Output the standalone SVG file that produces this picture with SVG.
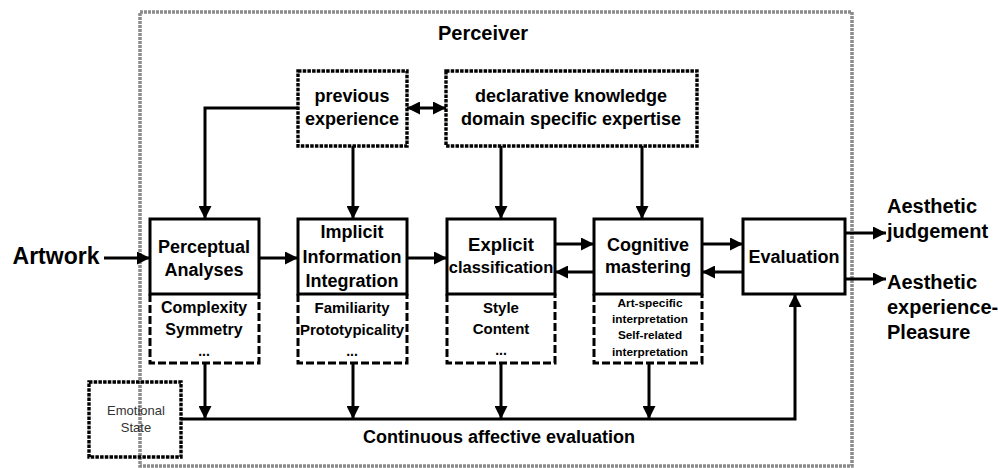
<svg xmlns="http://www.w3.org/2000/svg" width="998" height="468" viewBox="0 0 998 468">
<style>
text{font-family:"Liberation Sans",Arial,sans-serif;font-weight:bold;fill:#000;text-anchor:middle}
.box{fill:#fff;stroke:#000;stroke-width:3}
.dash{fill:none;stroke:#000;stroke-width:3;stroke-dasharray:8 3}
.dot{fill:#fff;stroke:#000;stroke-width:3.4;stroke-dasharray:3.5 1.2}
.ln{fill:none;stroke:#000;stroke-width:3}
.frame{fill:none;stroke:#8c8c8c;stroke-width:3.5;stroke-dasharray:3 1}
</style>
<defs>
<marker id="ah" viewBox="0 0 12 12" markerUnits="userSpaceOnUse" markerWidth="13" markerHeight="13" refX="12" refY="6" orient="auto-start-reverse">
<path d="M0,0 L12,6 L0,12 z" fill="#000"/>
</marker>
</defs>
<rect class="frame" x="140" y="12" width="712" height="454"/>
<text x="483" y="40" font-size="20">Perceiver</text>

<g id="connectors">
<path class="ln" d="M104,258 H150" marker-end="url(#ah)"/>
<path class="ln" d="M407,108 H446" marker-start="url(#ah)" marker-end="url(#ah)"/>
<path class="ln" d="M298,108 H205 V219" marker-end="url(#ah)"/>
<path class="ln" d="M353,146 V219" marker-end="url(#ah)"/>
<path class="ln" d="M501,146 V219" marker-end="url(#ah)"/>
<path class="ln" d="M642,146 V219" marker-end="url(#ah)"/>
<path class="ln" d="M259,258 H298" marker-end="url(#ah)"/>
<path class="ln" d="M407,258 H447" marker-end="url(#ah)"/>
<path class="ln" d="M555,244 H594" marker-end="url(#ah)"/>
<path class="ln" d="M594,272 H555" marker-end="url(#ah)"/>
<path class="ln" d="M702,244 H743" marker-end="url(#ah)"/>
<path class="ln" d="M743,272 H702" marker-end="url(#ah)"/>
<path class="ln" d="M845,233 H886" marker-end="url(#ah)"/>
<path class="ln" d="M845,279 H886" marker-end="url(#ah)"/>
<path class="ln" d="M205,363 V419" marker-end="url(#ah)"/>
<path class="ln" d="M353,363 V419" marker-end="url(#ah)"/>
<path class="ln" d="M501,363 V419" stroke-width="4" marker-end="url(#ah)"/>
<path class="ln" d="M649,363 V419" marker-end="url(#ah)"/>
<path class="ln" d="M181,419 H795 V294" marker-end="url(#ah)"/>
</g>

<g id="artwork"><text x="56" y="264" font-size="23">Artwork</text></g>

<g id="previous-experience">
<rect class="dot" x="298" y="71" width="109" height="75"/>
<text x="352" y="102" font-size="18">previous</text>
<text x="352" y="125" font-size="18">experience</text>
</g>

<g id="declarative-knowledge">
<rect class="dot" x="446" y="71" width="251" height="75"/>
<text x="571" y="102" font-size="18">declarative knowledge</text>
<text x="571" y="125" font-size="18">domain specific expertise</text>
</g>

<g id="perceptual-analyses">
<rect class="box" x="150" y="219" width="109" height="75"/>
<path class="dash" d="M150,294 V363 H259 V294"/>
<text x="204" y="253" font-size="18">Perceptual</text>
<text x="204" y="276" font-size="18">Analyses</text>
<text x="204" y="313" font-size="16">Complexity</text>
<text x="204" y="335" font-size="16">Symmetry</text>
<text x="204" y="356" font-size="14">...</text>
</g>

<g id="implicit-integration">
<rect class="box" x="298" y="219" width="109" height="75"/>
<path class="dash" d="M298,294 V363 H407 V294"/>
<text x="352" y="238" font-size="18">Implicit</text>
<text x="352" y="263" font-size="18">Information</text>
<text x="352" y="287" font-size="18">Integration</text>
<text x="352" y="313" font-size="15">Familiarity</text>
<text x="352" y="335" font-size="15">Prototypicality</text>
<text x="352" y="356" font-size="14">...</text>
</g>

<g id="explicit-classification">
<rect class="box" x="447" y="219" width="108" height="75"/>
<path class="dash" d="M447,294 V363 H555 V294"/>
<text x="501" y="251" font-size="18.5">Explicit</text>
<text x="501" y="273" font-size="16.5">classification</text>
<text x="501" y="313" font-size="15">Style</text>
<text x="501" y="334" font-size="15">Content</text>
<text x="501" y="355" font-size="14">...</text>
</g>

<g id="cognitive-mastering">
<rect class="box" x="594" y="219" width="108" height="75"/>
<path class="dash" d="M594,294 V363 H702 V294"/>
<text x="648" y="251" font-size="18">Cognitive</text>
<text x="648" y="273" font-size="18">mastering</text>
<text x="650" y="307" font-size="11.8">Art-specific</text>
<text x="650" y="323" font-size="11.8">interpretation</text>
<text x="650" y="339" font-size="11.8">Self-related</text>
<text x="650" y="356" font-size="11.8">interpretation</text>
</g>

<g id="evaluation">
<rect class="box" x="743" y="219" width="102" height="75"/>
<text x="794" y="263" font-size="18">Evaluation</text>
</g>

<g id="aesthetic-judgement">
<text x="887" y="213" font-size="20" style="text-anchor:start">Aesthetic</text>
<text x="887" y="238" font-size="20" style="text-anchor:start">judgement</text>
</g>

<g id="aesthetic-experience">
<text x="887" y="289" font-size="20" style="text-anchor:start">Aesthetic</text>
<text x="887" y="314" font-size="20" style="text-anchor:start">experience-</text>
<text x="887" y="339" font-size="20" style="text-anchor:start">Pleasure</text>
</g>

<g id="emotional-state">
<rect class="dot" x="89" y="382" width="92" height="75" style="fill:none"/>
<text x="136" y="415" font-size="13" style="font-weight:normal;fill:#333">Emotional</text>
<text x="136" y="432" font-size="13" style="font-weight:normal;fill:#333">State</text>
</g>

<g id="continuous-affective-evaluation">
<text x="499" y="443" font-size="18">Continuous affective evaluation</text>
</g>
</svg>
